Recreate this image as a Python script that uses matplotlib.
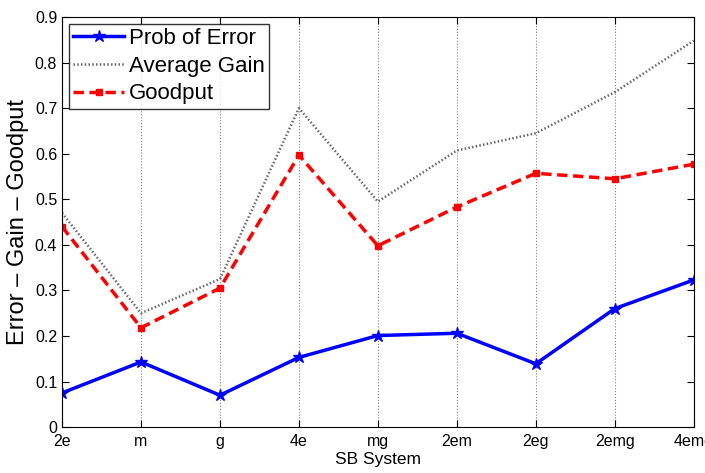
import numpy as np
import matplotlib.pyplot as plt

plt.rcParams['font.family'] = ['Liberation Sans', 'DejaVu Sans']

sistemas = ['2e', 'm', 'g', '4e', 'mg', '2em', '2eg', '2emg', '4emg']
prob_erro = [0.075, 0.143, 0.070, 0.153, 0.201, 0.206, 0.139, 0.260, 0.323]
ganho_medio = [0.47, 0.250, 0.325, 0.700, 0.495, 0.607, 0.645, 0.735, 0.848]
goodput = [0.440, 0.218, 0.305, 0.597, 0.398, 0.483, 0.557, 0.545, 0.577]

fig = plt.figure(figsize=(7.05, 4.73), dpi=100)
ax = fig.add_axes([0.088, 0.097, 0.896, 0.867])

x = np.arange(len(sistemas))
ax.plot(x, prob_erro, '-*', color='blue', lw=2.5, ms=9, label='Prob of Error')
ax.plot(x, ganho_medio, color='0.4', lw=1.8, linestyle=(0, (0.6, 0.9)), label='Average Gain')
ax.plot(x, goodput, color='red', lw=2.5, linestyle=(0, (3, 1.6)), marker='s', ms=5,
        label='Goodput')

ax.set_xlim(0, len(sistemas) - 1)
ax.set_ylim(0, 0.9)
ax.set_xticks(x)
ax.set_xticklabels(sistemas)
ax.set_yticks(np.arange(0, 0.91, 0.1))
ax.set_yticklabels(['0'] + ['%.1f' % v for v in np.arange(0.1, 0.91, 0.1)])
ax.tick_params(direction='in', top=True, right=True, labelsize=11.5, length=5)
ax.tick_params(axis='x', pad=5)
ax.xaxis.grid(True, linestyle=':', color='gray', lw=0.8)

ax.set_xlabel('SB System', fontsize=12.5, labelpad=2)
ax.set_ylabel('Error \u2013 Gain \u2013 Goodput', fontsize=17)

leg = ax.legend(loc='upper left', fontsize=16, fancybox=False, edgecolor='black',
                borderpad=0.2, labelspacing=0.3, handlelength=2.3, handletextpad=0.2,
                borderaxespad=0.3)
leg.get_frame().set_linewidth(1.0)

plt.savefig('out.png', dpi=100)
